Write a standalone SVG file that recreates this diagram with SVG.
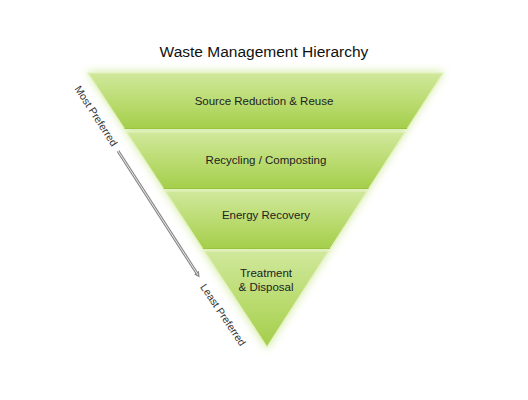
<svg xmlns="http://www.w3.org/2000/svg" width="528" height="400" viewBox="0 0 528 400">
<style>
.lbl{font-family:"Liberation Sans",Arial,sans-serif;font-size:11.5px;fill:#222;text-anchor:middle}
.side{font-family:"Liberation Sans",Arial,sans-serif;font-size:10.5px;fill:#333;text-anchor:middle}
.title{font-family:"Liberation Sans",Arial,sans-serif;font-size:15.5px;fill:#111;text-anchor:middle}
.band{fill:url(#g);stroke:#e3f2bd;stroke-width:1.2}
.sep{stroke:#98c440;stroke-width:1}
</style>
<defs>
<linearGradient id="g" x1="0" y1="0" x2="0" y2="1">
<stop offset="0" stop-color="#d0e89c"/>
<stop offset="0.5" stop-color="#bbdc72"/>
<stop offset="1" stop-color="#a4ce4a"/>
</linearGradient>
<filter id="glow" x="-20%" y="-20%" width="140%" height="140%">
<feGaussianBlur stdDeviation="4"/>
</filter>
<marker id="ah" markerWidth="6" markerHeight="6" refX="3" refY="3" orient="auto" markerUnits="userSpaceOnUse">
<path d="M0,0 L6,3 L0,6 Z" fill="#888"/>
</marker>
</defs>
<rect width="528" height="400" fill="#fff"/>
<text class="title" x="264" y="57">Waste Management Hierarchy</text>
<polygon points="86,71 445,71 267,350" fill="#d9eeb0" filter="url(#glow)"/>
<g id="band1">
<polygon class="band" points="88,73 443,73 407,129 124.6,129"/>
<line class="sep" x1="124.6" y1="128.5" x2="407" y2="128.5"/>
<text class="lbl" x="264" y="105">Source Reduction &amp; Reuse</text>
</g>
<g id="band2">
<polygon class="band" points="126.5,132 405.1,132 368.5,189 163.7,189"/>
<line class="sep" x1="163.7" y1="188.5" x2="368.5" y2="188.5"/>
<text class="lbl" x="266" y="164">Recycling / Composting</text>
</g>
<g id="band3">
<polygon class="band" points="165.1,191 367.2,191 330,249 202.9,249"/>
<line class="sep" x1="202.9" y1="248.5" x2="330" y2="248.5"/>
<text class="lbl" x="266" y="219">Energy Recovery</text>
</g>
<g id="band4">
<polygon class="band" points="204.2,251 328.7,251 267,347"/>
<text class="lbl" x="266" y="277">Treatment</text>
<text class="lbl" x="266" y="291">&amp; Disposal</text>
</g>
<g id="connectors">
<line x1="118" y1="151" x2="198" y2="275" stroke="#888" stroke-width="3" marker-end="url(#ah)"/>
<line x1="118" y1="151" x2="198" y2="275" stroke="#e8e8e8" stroke-width="1"/>
</g>
<g id="labels">
<text class="side" transform="translate(96,116) rotate(57)" y="3.5">Most Preferred</text>
<text class="side" transform="translate(223,315) rotate(56)" y="3.5">Least Preferred</text>
</g>
</svg>
